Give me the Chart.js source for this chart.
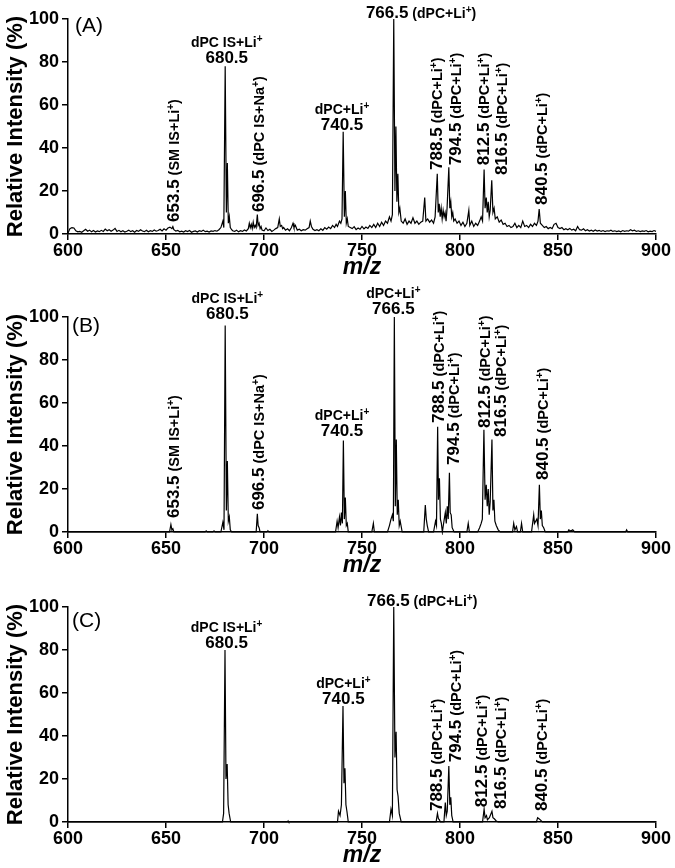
<!DOCTYPE html>
<html>
<head>
<meta charset="utf-8">
<script src="https://cdn.jsdelivr.net/npm/chart.js@4"></script>
<style>
  html, body { margin: 0; padding: 0; background: #fff; overflow: hidden; }
  body { width: 675px; height: 868px; position: relative; }
  canvas { position: absolute; left: 0; }
</style>
</head>
<body>
<canvas id="panelA" width="675" height="290" style="top:-8px"></canvas>
<canvas id="panelB" width="675" height="300" style="top:280px"></canvas>
<canvas id="panelC" width="675" height="300" style="top:570px"></canvas>
<script>
// axis ticks
const mzTicks = [600, 650, 700, 750, 800, 850, 900];
const intensityTicks = [0, 20, 40, 60, 80, 100];

// spectra: [m/z, relative intensity %]
const spectrumA = [
  [600, 0.5], [601, 2.5], [602, 3], [603, 2.8], [604, 1.5], [605, 1], [606, 1.2], [607, 0.8], [608, 1.5], [609, 2.2],
  [610, 1.3], [611, 1.8], [612, 1], [613, 1.6], [614, 0.9], [615, 1.4], [616, 1.1], [617, 1.7], [618, 1.2], [619, 2.3],
  [620, 1.5], [621, 2], [622, 1.3], [623, 1.8], [624, 2.6], [625, 1.2], [626, 1.7], [627, 1], [628, 1.5], [629, 0.9],
  [630, 1.3], [631, 1.8], [632, 1.1], [633, 1.5], [634, 0.8], [635, 1.6], [636, 1.2], [637, 2], [638, 1.4], [639, 1.1],
  [640, 1.7], [641, 1], [642, 1.5], [643, 1.2], [644, 1.9], [645, 1.3], [646, 1.6], [647, 2.2], [648, 1.4], [649, 2.4],
  [650, 1.8], [651, 2.8], [652, 3.2], [653, 2.5], [653.5, 3.4], [654, 2], [655, 1.4], [656, 1.7], [657, 1], [658, 1.3],
  [659, 0.9], [660, 1.5], [661, 1.1], [662, 1.6], [663, 0.8], [664, 1.2], [665, 1.4], [666, 0.9], [667, 1.5], [668, 1.2],
  [669, 1.8], [670, 1.1], [671, 1.3], [672, 0.9], [673, 1.4], [674, 1.2], [675, 1.6], [676, 1.3], [677, 2], [678, 3],
  [679, 6], [679.5, 3], [680.2, 78], [680.8, 10], [681.3, 33], [681.8, 5], [682.3, 8], [682.8, 3], [683.5, 2], [684, 1.5],
  [685, 1.2], [686, 1.8], [687, 1], [688, 1.5], [689, 1.2], [690, 1.9], [691, 1.4], [692, 2.5], [692.5, 5], [693, 3],
  [693.5, 4.5], [694, 2.5], [694.5, 5.5], [695, 3], [695.5, 4], [696, 3], [696.6, 9], [697, 4], [697.5, 5], [698, 2.5],
  [698.5, 3.5], [699, 1.8], [700, 1.5], [701, 2.8], [702, 1.6], [703, 2.2], [704, 1.2], [705, 1.8], [706, 2.5], [707, 3],
  [707.8, 7], [708.3, 3.5], [709, 4], [709.5, 2.5], [710, 3], [711, 1.8], [712, 2.4], [713, 1.5], [714, 3], [714.8, 5],
  [715.3, 3], [716, 4], [717, 1.8], [718, 2.2], [719, 1.5], [720, 2], [721, 1.8], [722, 2.4], [723, 3], [723.6, 6],
  [724.2, 3.5], [725, 2.2], [726, 1.6], [727, 2], [728, 1.5], [729, 2.4], [730, 1.7], [731, 3], [732, 2.2], [733, 3.2],
  [734, 2.5], [735, 4], [736, 3], [736.8, 4.5], [737.5, 3.5], [738.5, 6], [739.2, 5], [739.8, 7], [740.4, 47.5], [741, 8],
  [741.5, 20], [742, 5], [742.5, 7], [743, 3.5], [744, 3], [745, 2.5], [746, 3.4], [747, 2], [748, 2.8], [749, 2.2],
  [750, 3.5], [751, 2.4], [752, 3.2], [753, 2.6], [754, 4], [755, 3], [756, 4.5], [757, 3], [758, 5], [759, 3.5],
  [760, 5.5], [761, 4], [762, 6], [763, 5], [764, 8], [764.8, 6], [765.5, 9], [766.2, 100], [766.8, 20], [767.3, 50],
  [767.8, 15], [768.3, 28], [768.8, 10], [769.3, 12], [770, 6], [771, 5], [772, 7], [773, 4.5], [774, 6], [775, 5],
  [776, 7.5], [777, 5], [778, 6], [779, 4.5], [780, 5.5], [781, 6], [782, 17], [782.6, 6], [783.5, 7], [784.5, 5.5],
  [785.5, 6.5], [786.5, 5], [787.3, 8], [788.4, 28], [788.9, 10], [789.4, 14], [789.9, 8], [790.4, 12], [790.9, 7], [791.4, 11],
  [791.9, 8], [792.4, 10], [792.9, 6], [793.4, 12], [794.3, 31], [794.8, 12], [795.3, 15], [795.8, 8], [796.3, 10], [796.8, 6],
  [797.5, 7], [798.5, 5], [799.5, 6], [800.5, 4], [801.5, 5.5], [802.5, 3.5], [803.5, 5], [804.5, 11], [805, 4], [806, 6],
  [807, 3.5], [808, 5], [809, 4], [810, 6], [810.8, 8], [811.5, 6], [812.3, 30], [812.8, 12], [813.4, 17], [813.9, 10],
  [814.4, 15], [814.9, 8], [815.4, 11], [816.2, 25], [816.8, 10], [817.4, 12], [818, 7], [819, 8], [820, 5.5], [821, 6.5],
  [822, 4.5], [823, 5], [824, 3.5], [825, 4], [826, 3], [827, 3.5], [828, 5], [829, 3], [830, 4], [831, 3],
  [832, 6], [833, 3.5], [834, 4], [835, 3], [836, 4.5], [837, 3.5], [838, 5], [839, 4], [839.8, 6], [840.4, 11.6],
  [841, 5], [842, 4], [843, 3], [844, 3.5], [845, 2.5], [846, 3], [847, 2.5], [848, 4.5], [849, 5], [850, 3],
  [851, 2.5], [852, 3], [853, 2], [854, 2.5], [855, 2], [856, 2.6], [857, 1.8], [858, 2.2], [859, 1.5], [860, 3.5],
  [861, 2], [862, 1.8], [863, 2.4], [864, 1.5], [865, 2], [866, 1.4], [867, 1.8], [868, 1.3], [869, 1.9], [870, 1.4],
  [871, 1.7], [872, 1.2], [873, 1.6], [874, 1.1], [875, 1.5], [876, 1.3], [877, 1.8], [878, 1.2], [879, 1.5], [880, 1.1],
  [881, 1.4], [882, 1], [883, 1.6], [884, 1.2], [885, 1.5], [886, 1.3], [887, 2], [888, 1.5], [889, 1.8], [890, 1.2],
  [891, 1.5], [892, 1.1], [893, 1.4], [894, 1.2], [895, 1.6], [896, 1], [897, 1.3], [898, 1.1], [899, 1.6], [900, 1.2]
];

const spectrumB = [
  [600, 0], [651.8, 0], [652.5, 3.5], [653, 1], [653.5, 1.5], [654, 0],
  [670, 0], [670.5, 0.5], [671, 0], [674, 0], [674.5, 0.5], [675, 0],
  [678, 0], [679, 4.5], [679.6, 1], [680.2, 96], [680.8, 10], [681.3, 33], [681.8, 5], [682.3, 7], [682.8, 1], [683.5, 0],
  [696, 0], [696.6, 8.5], [697, 3], [697.5, 2], [698, 0], [701.5, 0], [702, 0.6], [702.5, 0],
  [736.5, 0], [737.3, 5], [737.8, 2], [738.5, 7], [739, 3], [739.5, 9], [740, 4], [740.5, 42.5], [741, 6], [741.5, 16],
  [742, 3], [742.5, 4], [743, 0],
  [755, 0], [755.8, 4], [756.3, 0],
  [763, 0], [764, 3], [764.8, 6], [765.5, 8], [766, 5], [766.5, 100], [767, 12], [767.5, 43], [768, 8], [768.5, 15],
  [769, 3], [769.5, 5], [770.5, 0],
  [781.5, 0], [782.3, 12.5], [782.8, 6], [783.3, 3], [784, 0],
  [786.5, 0], [787.5, 5], [788, 3], [788.6, 49], [789, 15], [789.5, 25], [790, 6], [790.5, 4], [791, 0],
  [791.8, 5], [792.5, 9], [793, 4], [793.5, 12], [794, 6], [794.6, 27.5], [795, 9], [795.5, 8], [796, 2], [797, 0],
  [803.5, 0], [804.2, 4], [804.8, 0],
  [809, 0], [810, 2], [810.8, 4], [811.4, 6], [812.2, 47.5], [812.8, 15], [813.4, 22], [813.9, 12], [814.4, 20], [814.9, 8],
  [815.4, 14], [816.3, 43], [816.8, 10], [817.3, 15], [817.8, 5], [818.5, 3], [819.5, 1], [820.5, 0],
  [826.8, 0], [827.4, 4], [828, 1], [828.8, 2.5], [829.4, 0], [830.8, 0], [831.4, 4], [832, 0],
  [836.5, 0], [837.6, 8], [838, 4], [838.6, 5], [839.2, 6], [839.8, 3], [840.5, 22], [841, 6], [841.5, 10], [842, 3],
  [842.7, 2], [843.5, 0],
  [855, 0], [855.5, 1], [856.5, 0.5], [857.5, 1], [858.5, 0],
  [884.5, 0], [885, 1], [885.6, 0], [900, 0]
];

const spectrumC = [
  [600, 0], [678.8, 0], [679.4, 4], [680.1, 80], [680.6, 20], [681.2, 27], [681.7, 8], [682.2, 4], [683, 0],
  [712, 0], [712.3, 0.5], [712.6, 0],
  [737.5, 0], [738, 5], [738.8, 3], [739.5, 8], [740.3, 54], [740.8, 18], [741.3, 25], [741.8, 8], [742.3, 5], [743, 0],
  [764, 0], [764.8, 6], [765.5, 3], [766.2, 100], [766.8, 30], [767.4, 42], [767.9, 15], [768.4, 12], [769, 4], [770, 0],
  [787.8, 0], [788.5, 4], [789, 1.5], [789.5, 1], [790, 0],
  [791.8, 0], [792.5, 9], [793, 3], [793.5, 5], [794.3, 26], [794.8, 8], [795.3, 11.5], [795.8, 3], [796.5, 0],
  [811.5, 0], [812.3, 6], [812.8, 2], [813.5, 3], [814, 1], [815, 2], [816.3, 5], [816.8, 2], [817.5, 1.5], [818.5, 0.5], [819.5, 0],
  [839, 0], [839.6, 2], [840.3, 1.5], [841, 1], [842, 0], [900, 0]
];

// peak labels: kind, label m/z, intensity at which the label sits, number, species
const labelsA = [
  { kind: 'stack', mz: 681, at: 82.3, num: '680.5', name: 'dPC IS+Li^+' },
  { kind: 'stack', mz: 739.8, at: 51.2, num: '740.5', name: 'dPC+Li^+' },
  { kind: 'inline', mz: 752, at: 103.3, num: '766.5', name: '(dPC+Li^+)' },
  { kind: 'rot', mz: 653.6, at: 5.6, num: '653.5', name: '(SM IS+Li^+)' },
  { kind: 'rot', mz: 696.9, at: 10.2, num: '696.5', name: '(dPC IS+Na^+)' },
  { kind: 'rot', mz: 787.8, at: 29.8, num: '788.5', name: '(dPC+Li^+)' },
  { kind: 'rot', mz: 797.4, at: 32, num: '794.5', name: '(dPC+Li^+)' },
  { kind: 'rot', mz: 811.7, at: 32, num: '812.5', name: '(dPC+Li^+)' },
  { kind: 'rot', mz: 820.9, at: 27.4, num: '816.5', name: '(dPC+Li^+)' },
  { kind: 'rot', mz: 841.3, at: 13.5, num: '840.5', name: '(dPC+Li^+)' }
];

const labelsB = [
  { kind: 'stack', mz: 681.3, at: 101.9, num: '680.5', name: 'dPC IS+Li^+' },
  { kind: 'stack', mz: 739.8, at: 47.4, num: '740.5', name: 'dPC+Li^+' },
  { kind: 'stack', mz: 766, at: 104.2, num: '766.5', name: 'dPC+Li^+' },
  { kind: 'rot', mz: 653.6, at: 6.5, num: '653.5', name: '(SM IS+Li^+)' },
  { kind: 'rot', mz: 696.9, at: 10.2, num: '696.5', name: '(dPC IS+Na^+)' },
  { kind: 'rot', mz: 788.8, at: 50.7, num: '788.5', name: '(dPC+Li^+)' },
  { kind: 'rot', mz: 796.4, at: 31.2, num: '794.5', name: '(dPC+Li^+)' },
  { kind: 'rot', mz: 812.2, at: 48.4, num: '812.5', name: '(dPC+Li^+)' },
  { kind: 'rot', mz: 820.4, at: 44.2, num: '816.5', name: '(dPC+Li^+)' },
  { kind: 'rot', mz: 841.8, at: 24.2, num: '840.5', name: '(dPC+Li^+)' }
];

const labelsC = [
  { kind: 'stack', mz: 680.9, at: 83.8, num: '680.5', name: 'dPC IS+Li^+' },
  { kind: 'stack', mz: 740.5, at: 57.9, num: '740.5', name: 'dPC+Li^+' },
  { kind: 'inline', mz: 752.6, at: 103.2, num: '766.5', name: '(dPC+Li^+)' },
  { kind: 'rot', mz: 787.8, at: 5.1, num: '788.5', name: '(dPC+Li^+)' },
  { kind: 'rot', mz: 797.4, at: 27.8, num: '794.5', name: '(dPC+Li^+)' },
  { kind: 'rot', mz: 810.7, at: 6.9, num: '812.5', name: '(dPC+Li^+)' },
  { kind: 'rot', mz: 820.4, at: 6, num: '816.5', name: '(dPC+Li^+)' },
  { kind: 'rot', mz: 841.3, at: 5.1, num: '840.5', name: '(dPC+Li^+)' }
];

const FONT = "'Liberation Sans', Arial, Helvetica, sans-serif";
Chart.defaults.font.family = FONT;
Chart.defaults.color = '#000';
Chart.defaults.animation = false;

// split "Li^+" style text into normal and superscript pieces
function pieces(str, size) {
  const out = [];
  let buf = '';
  for (let i = 0; i < str.length; i++) {
    if (str[i] === '^') {
      if (buf) out.push({ t: buf, s: size, r: 0 });
      buf = '';
      out.push({ t: str[i + 1], s: Math.round(size * 0.7), r: size * 0.34 });
      i++;
    } else {
      buf += str[i];
    }
  }
  if (buf) out.push({ t: buf, s: size, r: 0 });
  return out;
}

function widthOf(ctx, list) {
  return list.reduce((w, p) => {
    ctx.font = 'bold ' + p.s + 'px ' + FONT;
    return w + ctx.measureText(p.t).width;
  }, 0);
}

function drawPieces(ctx, list, x, y) {
  list.forEach(p => {
    ctx.font = 'bold ' + p.s + 'px ' + FONT;
    ctx.fillText(p.t, x, y - p.r);
    x += ctx.measureText(p.t).width;
  });
}

const peakLabels = {
  id: 'peakLabels',
  afterDatasetsDraw(chart, args, opts) {
    const { ctx, chartArea, scales: { x, y } } = chart;
    ctx.save();
    ctx.fillStyle = '#000';
    ctx.textAlign = 'left';
    ctx.textBaseline = 'alphabetic';

    ctx.font = '21px ' + FONT;
    ctx.fillText(opts.letter, chartArea.left + opts.letterAt[0], chartArea.top + opts.letterAt[1]);

    opts.items.forEach(it => {
      const px = x.getPixelForValue(it.mz);
      const py = y.getPixelForValue(it.at);
      const num = pieces(it.num, 17);
      const name = pieces(it.name, 14);
      if (it.kind === 'stack') {
        drawPieces(ctx, num, px - widthOf(ctx, num) / 2, py + 6);
        drawPieces(ctx, name, px - widthOf(ctx, name) / 2, py - 10);
      } else if (it.kind === 'inline') {
        const line = num.concat(pieces(' ' + it.name, 14));
        drawPieces(ctx, line, px, py + 6);
      } else {
        ctx.save();
        ctx.translate(px, py);
        ctx.rotate(-Math.PI / 2);
        drawPieces(ctx, num.concat(pieces(' ' + it.name, 14.5)), 0, 6);
        ctx.restore();
      }
    });
    ctx.restore();
  }
};

function makePanel(id, spectrum, labels, letter, letterAt, padTop) {
  const axisLine = { display: true, color: '#000', width: 1.5 };
  const tickMarks = { display: true, drawOnChartArea: false, drawTicks: true, tickLength: 6, color: '#000', lineWidth: 1.5 };
  new Chart(document.getElementById(id), {
    type: 'line',
    data: {
      datasets: [{
        data: spectrum.map(([mz, v]) => ({ x: mz, y: v })),
        borderColor: '#000',
        borderWidth: 1.2,
        pointRadius: 0,
        tension: 0,
        fill: false,
        clip: 3
      }]
    },
    options: {
      responsive: false,
      animation: false,
      events: [],
      layout: { padding: { top: padTop, right: 19, left: 0, bottom: 0 } },
      plugins: {
        legend: { display: false },
        tooltip: { enabled: false },
        peakLabels: { items: labels, letter: letter, letterAt: letterAt }
      },
      scales: {
        x: {
          type: 'linear',
          min: mzTicks[0],
          max: mzTicks[mzTicks.length - 1],
          afterBuildTicks: s => { s.ticks = mzTicks.map(v => ({ value: v })); },
          afterFit: s => { s.height = 48; },
          ticks: { color: '#000', padding: 0, font: { size: 18, weight: 'bold' } },
          grid: tickMarks,
          border: axisLine,
          title: { display: true, text: 'm/z', color: '#000', padding: { top: 0, bottom: 1 }, font: { size: 23, weight: 'bold', style: 'italic' } }
        },
        y: {
          min: 0,
          max: 100,
          afterBuildTicks: s => { s.ticks = intensityTicks.map(v => ({ value: v })); },
          afterFit: s => { s.width = 68; },
          ticks: { color: '#000', padding: 3, font: { size: 18, weight: 'bold' } },
          grid: tickMarks,
          border: axisLine,
          title: { display: true, text: 'Relative Intensity (%)', color: '#000', padding: { top: 3, bottom: 0 }, font: { size: 22, weight: 'bold' } }
        }
      }
    },
    plugins: [peakLabels]
  });
}

makePanel('panelA', spectrumA, labelsA, '(A)', [7, 13], 27);
makePanel('panelB', spectrumB, labelsB, '(B)', [4, 15], 37);
makePanel('panelC', spectrumC, labelsC, '(C)', [4, 20], 37);
</script>
</body>
</html>
